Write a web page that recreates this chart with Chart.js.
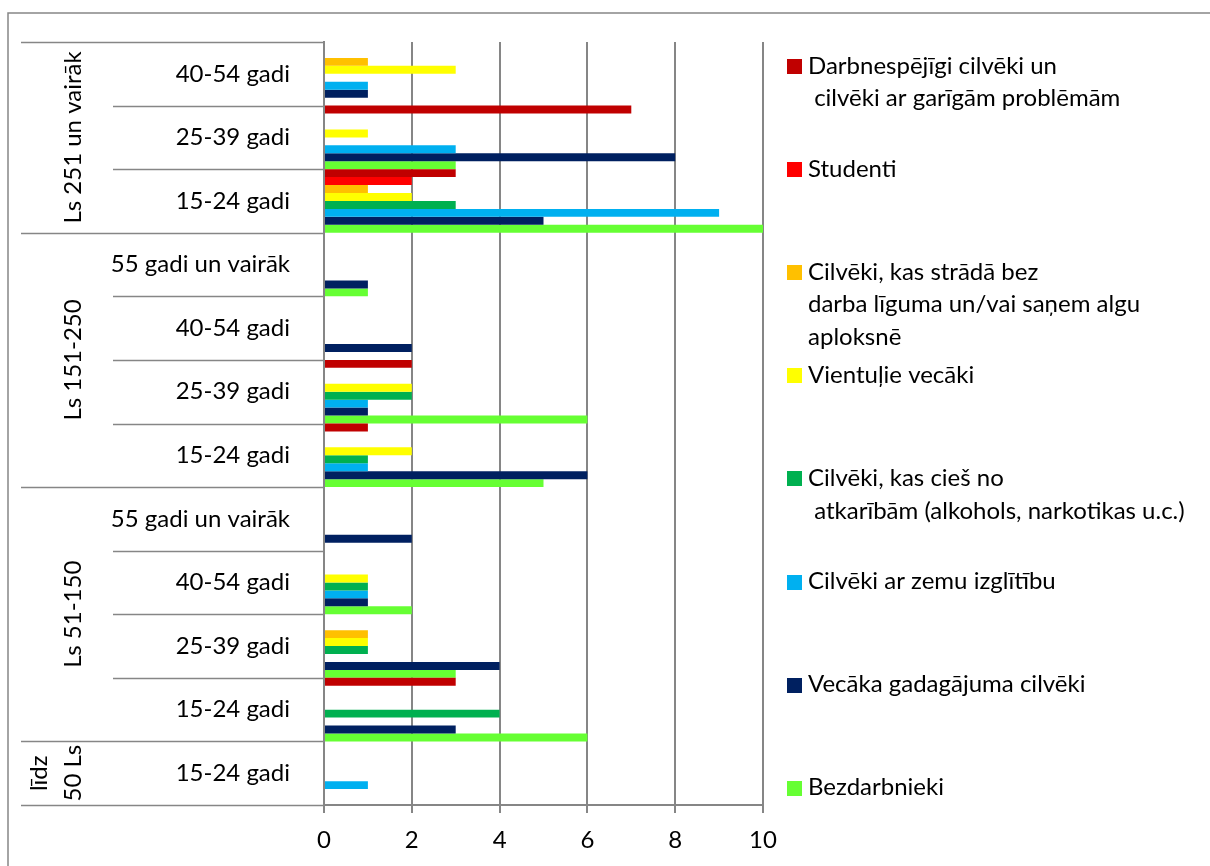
<!DOCTYPE html>
<html><head><meta charset="utf-8">
<script src="https://cdn.jsdelivr.net/npm/chart.js@4.4.0/dist/chart.umd.min.js"></script>
<style>html,body{margin:0;padding:0;background:#fff;}#wrap{width:1210px;height:866px;}</style>
</head><body><div id="wrap"><canvas id="c" width="1210" height="866"></canvas></div>
<script>
// ---- data ----
const ageLabels = ['40-54 gadi','25-39 gadi','15-24 gadi','55 gadi un vairāk','40-54 gadi','25-39 gadi','15-24 gadi','55 gadi un vairāk','40-54 gadi','25-39 gadi','15-24 gadi','15-24 gadi'];
const groupLabels = [['Ls 251 un vairāk'], ['Ls 151-250'], ['Ls 51-150'], ['līdz', '50 Ls']];
const groupSizes = [3, 4, 4, 1];
const seriesNames = [
  ['Darbnespējīgi cilvēki un', ' cilvēki ar garīgām problēmām'],
  ['Studenti'],
  ['Cilvēki, kas strādā bez', 'darba līguma un/vai saņem algu', 'aploksnē'],
  ['Vientuļie vecāki'],
  ['Cilvēki, kas cieš no', ' atkarībām (alkohols, narkotikas u.c.)'],
  ['Cilvēki ar zemu izglītību'],
  ['Vecāka gadagājuma cilvēki'],
  ['Bezdarbnieki']
];
const seriesColors = ['#C00000','#FF0000','#FFC000','#FFFF00','#00B050','#00B0F0','#002060','#66FF33'];
const darbnespejigi = [0,7,3,0,0,2,1,0,0,0,3,0];
const studenti      = [0,0,2,0,0,0,0,0,0,0,0,0];
const bezLiguma     = [1,0,1,0,0,0,0,0,0,1,0,0];
const vientulie     = [3,1,2,0,0,2,2,0,1,1,0,0];
const atkaribas     = [0,0,3,0,0,2,1,0,1,1,4,0];
const zemaIzglitiba = [1,3,9,0,0,1,1,0,1,0,0,1];
const vecaka        = [1,8,5,1,2,1,6,2,1,4,3,0];
const bezdarbnieki  = [0,3,10,1,0,6,5,0,2,3,6,0];
const seriesValues = [darbnespejigi, studenti, bezLiguma, vientulie, atkaribas, zemaIzglitiba, vecaka, bezdarbnieki];
const xMin = 0, xMax = 10, xStep = 2;

// ---- styles ----
const FONT = 'Lato, "Open Sans", sans-serif';
const GRAY = '#868686';

const tablePlugin = {
  id: 'tablePlugin',
  afterDraw(chart) {
    const ctx = chart.ctx;
    const area = chart.chartArea;
    const n = ageLabels.length;
    const band = (area.bottom - area.top) / n;
    ctx.save();
    // outer frame
    ctx.strokeStyle = GRAY; ctx.lineWidth = 1.5;
    ctx.strokeRect(8, 13, 1220, 880);
    // separators
    const groupBounds = [0];
    groupSizes.forEach(s => groupBounds.push(groupBounds[groupBounds.length - 1] + s));
    ctx.strokeStyle = GRAY; ctx.lineWidth = 1.5;
    for (let k = 0; k <= n; k++) {
      const y = Math.round(area.top + k * band) + 0.5;
      const x0 = groupBounds.includes(k) ? 21 : 113;
      ctx.beginPath(); ctx.moveTo(x0, y); ctx.lineTo(area.left, y); ctx.stroke();
    }
    // group labels
    ctx.fillStyle = '#000';
    ctx.font = '24px ' + FONT;
    ctx.textAlign = 'center'; ctx.textBaseline = 'middle';
    groupLabels.forEach((lines, g) => {
      const cy = area.top + (groupBounds[g] + groupSizes[g] / 2) * band;
      lines.forEach((t, j) => {
        const cx = 73 - (lines.length - 1 - j) * 34;
        ctx.save(); ctx.translate(cx, cy); ctx.rotate(-Math.PI / 2);
        ctx.fillText(t, 0, 0); ctx.restore();
      });
    });
    // legend
    ctx.textAlign = 'left';
    seriesNames.forEach((lines, i) => {
      const y0 = 66 + i * 103.1;
      ctx.fillStyle = seriesColors[i];
      ctx.fillRect(787, Math.round(y0 - 7), 15, 15);
      ctx.fillStyle = '#000';
      lines.forEach((t, j) => ctx.fillText(t, 808, y0 + j * 32.5));
    });
    ctx.restore();
  }
};

new Chart(document.getElementById('c'), {
  type: 'bar',
  data: {
    labels: ageLabels,
    datasets: seriesValues.map((v, i) => ({
      label: seriesNames[i].join(' ').replace(/\s+/g, ' '),
      data: v,
      backgroundColor: seriesColors[i],
      borderWidth: 0,
      inflateAmount: 0,
      categoryPercentage: 1,
      barPercentage: 1
    }))
  },
  options: {
    indexAxis: 'y',
    responsive: false,
    animation: false,
    layout: { padding: { top: 42, right: 447, left: 0, bottom: 0 } },
    plugins: { legend: { display: false }, tooltip: { enabled: false } },
    scales: {
      x: {
        min: xMin, max: xMax,
        ticks: { stepSize: xStep, font: { family: FONT, size: 24 }, color: '#000', padding: 13 },
        grid: { color: GRAY, lineWidth: 2, tickLength: 8, drawTicks: true },
        border: { display: true, color: GRAY, width: 2 },
        afterFit: s => { s.height = 61; }
      },
      y: {
        ticks: { font: { family: FONT, size: 24 }, color: '#000', padding: 26 },
        grid: { display: false },
        border: { display: true, color: GRAY, width: 2 },
        afterFit: s => { s.width = 324; }
      }
    }
  },
  plugins: [tablePlugin]
});
</script></body></html>
